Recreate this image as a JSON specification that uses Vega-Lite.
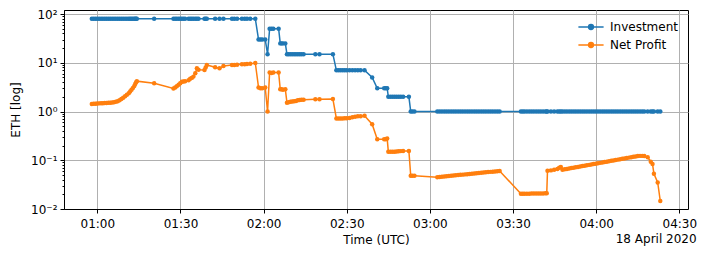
{
  "$schema": "https://vega.github.io/schema/vega-lite/v6.json",
  "width": 624,
  "height": 199,
  "autosize": {"type": "none"},
  "padding": {"left": 64, "top": 10, "right": 18, "bottom": 48},
  "background": "white",
  "config": {
    "font": "DejaVu Sans",
    "view": {"stroke": "black", "strokeWidth": 1},
    "axis": {
      "labelFont": "DejaVu Sans", "labelFontSize": 12, "labelColor": "black",
      "titleFont": "DejaVu Sans", "titleFontSize": 12, "titleFontWeight": "normal", "titleColor": "black",
      "domainColor": "black", "tickColor": "black", "tickSize": 4,
      "gridColor": "#b0b0b0", "gridWidth": 1, "gridOpacity": 1
    }
  },
  "title": {"text": "18 April 2020", "orient": "bottom", "anchor": "end", "fontSize": 12, "fontWeight": "normal", "font": "DejaVu Sans", "color": "black", "offset": -11},
  "data": {"values": [
    {"t":"2020-04-18T00:58:00Z","Investment":80,"Net Profit":1.43},
    {"t":"2020-04-18T00:58:40Z","Investment":80,"Net Profit":1.44},
    {"t":"2020-04-18T00:59:20Z","Investment":80,"Net Profit":1.45},
    {"t":"2020-04-18T01:00:00Z","Investment":80,"Net Profit":1.46},
    {"t":"2020-04-18T01:00:40Z","Investment":80,"Net Profit":1.47},
    {"t":"2020-04-18T01:01:20Z","Investment":80,"Net Profit":1.48},
    {"t":"2020-04-18T01:02:00Z","Investment":80,"Net Profit":1.48},
    {"t":"2020-04-18T01:02:40Z","Investment":80,"Net Profit":1.49},
    {"t":"2020-04-18T01:03:20Z","Investment":80,"Net Profit":1.5},
    {"t":"2020-04-18T01:04:00Z","Investment":80,"Net Profit":1.51},
    {"t":"2020-04-18T01:04:40Z","Investment":80,"Net Profit":1.52},
    {"t":"2020-04-18T01:05:20Z","Investment":80,"Net Profit":1.53},
    {"t":"2020-04-18T01:06:00Z","Investment":80,"Net Profit":1.55},
    {"t":"2020-04-18T01:06:40Z","Investment":80,"Net Profit":1.58},
    {"t":"2020-04-18T01:07:20Z","Investment":80,"Net Profit":1.63},
    {"t":"2020-04-18T01:08:00Z","Investment":80,"Net Profit":1.7},
    {"t":"2020-04-18T01:08:40Z","Investment":80,"Net Profit":1.8},
    {"t":"2020-04-18T01:09:20Z","Investment":80,"Net Profit":1.92},
    {"t":"2020-04-18T01:10:00Z","Investment":80,"Net Profit":2.05},
    {"t":"2020-04-18T01:10:40Z","Investment":80,"Net Profit":2.2},
    {"t":"2020-04-18T01:11:20Z","Investment":80,"Net Profit":2.38},
    {"t":"2020-04-18T01:11:50Z","Investment":80,"Net Profit":2.58},
    {"t":"2020-04-18T01:12:20Z","Investment":80,"Net Profit":2.8},
    {"t":"2020-04-18T01:12:50Z","Investment":80,"Net Profit":3.05},
    {"t":"2020-04-18T01:13:20Z","Investment":80,"Net Profit":3.35},
    {"t":"2020-04-18T01:13:40Z","Investment":80,"Net Profit":3.65},
    {"t":"2020-04-18T01:14:00Z","Investment":80,"Net Profit":4.0},
    {"t":"2020-04-18T01:14:15Z","Investment":80,"Net Profit":4.2},
    {"t":"2020-04-18T01:20:30Z","Investment":80,"Net Profit":3.8},
    {"t":"2020-04-18T01:27:28Z","Investment":80,"Net Profit":2.98},
    {"t":"2020-04-18T01:28:05Z","Investment":80,"Net Profit":3.1},
    {"t":"2020-04-18T01:28:40Z","Investment":80,"Net Profit":3.3},
    {"t":"2020-04-18T01:29:20Z","Investment":80,"Net Profit":3.55},
    {"t":"2020-04-18T01:29:55Z","Investment":80,"Net Profit":3.8},
    {"t":"2020-04-18T01:30:30Z","Investment":80,"Net Profit":4.1},
    {"t":"2020-04-18T01:31:05Z","Investment":80,"Net Profit":4.15},
    {"t":"2020-04-18T01:31:40Z","Investment":80,"Net Profit":4.2},
    {"t":"2020-04-18T01:32:55Z","Investment":80,"Net Profit":4.4},
    {"t":"2020-04-18T01:33:30Z","Investment":80,"Net Profit":4.7},
    {"t":"2020-04-18T01:34:05Z","Investment":80,"Net Profit":4.9},
    {"t":"2020-04-18T01:34:40Z","Investment":80,"Net Profit":5.2},
    {"t":"2020-04-18T01:35:20Z","Investment":80,"Net Profit":6.1},
    {"t":"2020-04-18T01:35:55Z","Investment":80,"Net Profit":7.7},
    {"t":"2020-04-18T01:36:30Z","Investment":80,"Net Profit":7.2},
    {"t":"2020-04-18T01:38:40Z","Investment":80,"Net Profit":7.1},
    {"t":"2020-04-18T01:39:05Z","Investment":80,"Net Profit":8.0},
    {"t":"2020-04-18T01:39:30Z","Investment":80,"Net Profit":9.0},
    {"t":"2020-04-18T01:42:30Z","Investment":80,"Net Profit":8.1},
    {"t":"2020-04-18T01:44:05Z","Investment":80,"Net Profit":7.7},
    {"t":"2020-04-18T01:45:30Z","Investment":80,"Net Profit":8.6},
    {"t":"2020-04-18T01:48:35Z","Investment":80,"Net Profit":9.0},
    {"t":"2020-04-18T01:49:25Z","Investment":80,"Net Profit":9.0},
    {"t":"2020-04-18T01:50:25Z","Investment":80,"Net Profit":9.1},
    {"t":"2020-04-18T01:52:10Z","Investment":80,"Net Profit":9.3},
    {"t":"2020-04-18T01:53:10Z","Investment":80,"Net Profit":9.3},
    {"t":"2020-04-18T01:54:00Z","Investment":80,"Net Profit":9.4},
    {"t":"2020-04-18T01:55:10Z","Investment":80,"Net Profit":9.6},
    {"t":"2020-04-18T01:57:00Z","Investment":80,"Net Profit":9.9},
    {"t":"2020-04-18T01:58:10Z","Investment":30,"Net Profit":3.1},
    {"t":"2020-04-18T01:58:50Z","Investment":30,"Net Profit":3.0},
    {"t":"2020-04-18T01:59:30Z","Investment":30,"Net Profit":3.0},
    {"t":"2020-04-18T02:00:35Z","Investment":30,"Net Profit":3.1},
    {"t":"2020-04-18T02:01:25Z","Investment":15,"Net Profit":1.0},
    {"t":"2020-04-18T02:02:10Z","Investment":50,"Net Profit":6.3},
    {"t":"2020-04-18T02:02:50Z","Investment":50,"Net Profit":6.2},
    {"t":"2020-04-18T02:03:30Z","Investment":50,"Net Profit":6.3},
    {"t":"2020-04-18T02:05:25Z","Investment":50,"Net Profit":6.3},
    {"t":"2020-04-18T02:06:00Z","Investment":25,"Net Profit":2.85},
    {"t":"2020-04-18T02:06:30Z","Investment":25,"Net Profit":2.85},
    {"t":"2020-04-18T02:07:00Z","Investment":25,"Net Profit":2.8},
    {"t":"2020-04-18T02:07:50Z","Investment":25,"Net Profit":2.85},
    {"t":"2020-04-18T02:08:25Z","Investment":15,"Net Profit":1.52},
    {"t":"2020-04-18T02:09:00Z","Investment":15,"Net Profit":1.55},
    {"t":"2020-04-18T02:09:40Z","Investment":15,"Net Profit":1.58},
    {"t":"2020-04-18T02:10:20Z","Investment":15,"Net Profit":1.6},
    {"t":"2020-04-18T02:11:00Z","Investment":15,"Net Profit":1.62},
    {"t":"2020-04-18T02:11:40Z","Investment":15,"Net Profit":1.65},
    {"t":"2020-04-18T02:12:20Z","Investment":15,"Net Profit":1.7},
    {"t":"2020-04-18T02:13:00Z","Investment":15,"Net Profit":1.72},
    {"t":"2020-04-18T02:13:40Z","Investment":15,"Net Profit":1.75},
    {"t":"2020-04-18T02:14:25Z","Investment":15,"Net Profit":1.75},
    {"t":"2020-04-18T02:18:40Z","Investment":15,"Net Profit":1.78},
    {"t":"2020-04-18T02:20:10Z","Investment":15,"Net Profit":1.78},
    {"t":"2020-04-18T02:25:00Z","Investment":15,"Net Profit":1.8},
    {"t":"2020-04-18T02:26:15Z","Investment":7,"Net Profit":0.72},
    {"t":"2020-04-18T02:27:00Z","Investment":7,"Net Profit":0.72},
    {"t":"2020-04-18T02:27:45Z","Investment":7,"Net Profit":0.72},
    {"t":"2020-04-18T02:28:30Z","Investment":7,"Net Profit":0.72},
    {"t":"2020-04-18T02:29:15Z","Investment":7,"Net Profit":0.73},
    {"t":"2020-04-18T02:30:00Z","Investment":7,"Net Profit":0.73},
    {"t":"2020-04-18T02:31:00Z","Investment":7,"Net Profit":0.74},
    {"t":"2020-04-18T02:32:00Z","Investment":7,"Net Profit":0.76},
    {"t":"2020-04-18T02:33:00Z","Investment":7,"Net Profit":0.78},
    {"t":"2020-04-18T02:34:00Z","Investment":7,"Net Profit":0.8},
    {"t":"2020-04-18T02:35:00Z","Investment":7,"Net Profit":0.8},
    {"t":"2020-04-18T02:36:25Z","Investment":7,"Net Profit":0.82},
    {"t":"2020-04-18T02:39:10Z","Investment":5,"Net Profit":0.55},
    {"t":"2020-04-18T02:41:00Z","Investment":3,"Net Profit":0.27},
    {"t":"2020-04-18T02:43:30Z","Investment":3,"Net Profit":0.27},
    {"t":"2020-04-18T02:44:05Z","Investment":3,"Net Profit":0.27},
    {"t":"2020-04-18T02:44:35Z","Investment":3,"Net Profit":0.28},
    {"t":"2020-04-18T02:45:00Z","Investment":2,"Net Profit":0.15},
    {"t":"2020-04-18T02:45:45Z","Investment":2,"Net Profit":0.15},
    {"t":"2020-04-18T02:46:30Z","Investment":2,"Net Profit":0.15},
    {"t":"2020-04-18T02:47:15Z","Investment":2,"Net Profit":0.15},
    {"t":"2020-04-18T02:48:00Z","Investment":2,"Net Profit":0.152},
    {"t":"2020-04-18T02:48:45Z","Investment":2,"Net Profit":0.153},
    {"t":"2020-04-18T02:49:30Z","Investment":2,"Net Profit":0.154},
    {"t":"2020-04-18T02:50:20Z","Investment":2,"Net Profit":0.155},
    {"t":"2020-04-18T02:52:25Z","Investment":2,"Net Profit":0.155},
    {"t":"2020-04-18T02:53:05Z","Investment":1,"Net Profit":0.048},
    {"t":"2020-04-18T02:53:40Z","Investment":1,"Net Profit":0.048},
    {"t":"2020-04-18T02:54:25Z","Investment":1,"Net Profit":0.048},
    {"t":"2020-04-18T03:02:40Z","Investment":1,"Net Profit":0.045},
    {"t":"2020-04-18T03:03:30Z","Investment":1,"Net Profit":0.0455},
    {"t":"2020-04-18T03:04:20Z","Investment":1,"Net Profit":0.046},
    {"t":"2020-04-18T03:05:10Z","Investment":1,"Net Profit":0.0465},
    {"t":"2020-04-18T03:06:00Z","Investment":1,"Net Profit":0.047},
    {"t":"2020-04-18T03:06:50Z","Investment":1,"Net Profit":0.0475},
    {"t":"2020-04-18T03:07:40Z","Investment":1,"Net Profit":0.048},
    {"t":"2020-04-18T03:08:30Z","Investment":1,"Net Profit":0.0485},
    {"t":"2020-04-18T03:09:20Z","Investment":1,"Net Profit":0.0491},
    {"t":"2020-04-18T03:10:10Z","Investment":1,"Net Profit":0.0496},
    {"t":"2020-04-18T03:11:00Z","Investment":1,"Net Profit":0.0502},
    {"t":"2020-04-18T03:11:50Z","Investment":1,"Net Profit":0.0507},
    {"t":"2020-04-18T03:12:40Z","Investment":1,"Net Profit":0.0513},
    {"t":"2020-04-18T03:13:30Z","Investment":1,"Net Profit":0.0518},
    {"t":"2020-04-18T03:14:20Z","Investment":1,"Net Profit":0.0524},
    {"t":"2020-04-18T03:15:10Z","Investment":1,"Net Profit":0.053},
    {"t":"2020-04-18T03:16:00Z","Investment":1,"Net Profit":0.0535},
    {"t":"2020-04-18T03:16:50Z","Investment":1,"Net Profit":0.0541},
    {"t":"2020-04-18T03:17:40Z","Investment":1,"Net Profit":0.0547},
    {"t":"2020-04-18T03:18:30Z","Investment":1,"Net Profit":0.0553},
    {"t":"2020-04-18T03:19:20Z","Investment":1,"Net Profit":0.0559},
    {"t":"2020-04-18T03:20:10Z","Investment":1,"Net Profit":0.0566},
    {"t":"2020-04-18T03:21:00Z","Investment":1,"Net Profit":0.0572},
    {"t":"2020-04-18T03:21:50Z","Investment":1,"Net Profit":0.0578},
    {"t":"2020-04-18T03:22:40Z","Investment":1,"Net Profit":0.0584},
    {"t":"2020-04-18T03:23:30Z","Investment":1,"Net Profit":0.0591},
    {"t":"2020-04-18T03:24:20Z","Investment":1,"Net Profit":0.0597},
    {"t":"2020-04-18T03:25:10Z","Investment":1,"Net Profit":0.0603},
    {"t":"2020-04-18T03:32:50Z","Investment":1,"Net Profit":0.0205},
    {"t":"2020-04-18T03:33:30Z","Investment":1,"Net Profit":0.0205},
    {"t":"2020-04-18T03:34:10Z","Investment":1,"Net Profit":0.0205},
    {"t":"2020-04-18T03:35:00Z","Investment":1,"Net Profit":0.0206},
    {"t":"2020-04-18T03:35:50Z","Investment":1,"Net Profit":0.0206},
    {"t":"2020-04-18T03:36:40Z","Investment":1,"Net Profit":0.0207},
    {"t":"2020-04-18T03:37:30Z","Investment":1,"Net Profit":0.0207},
    {"t":"2020-04-18T03:38:20Z","Investment":1,"Net Profit":0.0208},
    {"t":"2020-04-18T03:39:10Z","Investment":1,"Net Profit":0.0208},
    {"t":"2020-04-18T03:40:00Z","Investment":1,"Net Profit":0.0209},
    {"t":"2020-04-18T03:40:50Z","Investment":1,"Net Profit":0.0209},
    {"t":"2020-04-18T03:41:40Z","Investment":1,"Net Profit":0.021},
    {"t":"2020-04-18T03:42:10Z","Investment":1,"Net Profit":0.021},
    {"t":"2020-04-18T03:42:26Z","Investment":1,"Net Profit":0.061},
    {"t":"2020-04-18T03:43:40Z","Investment":1,"Net Profit":0.062},
    {"t":"2020-04-18T03:44:50Z","Investment":1,"Net Profit":0.064},
    {"t":"2020-04-18T03:46:00Z","Investment":1,"Net Profit":0.066},
    {"t":"2020-04-18T03:46:40Z","Investment":1,"Net Profit":0.07},
    {"t":"2020-04-18T03:47:15Z","Investment":1,"Net Profit":0.073},
    {"t":"2020-04-18T03:47:50Z","Investment":1,"Net Profit":0.064},
    {"t":"2020-04-18T03:48:38Z","Investment":1,"Net Profit":0.0652},
    {"t":"2020-04-18T03:49:26Z","Investment":1,"Net Profit":0.0665},
    {"t":"2020-04-18T03:50:14Z","Investment":1,"Net Profit":0.0678},
    {"t":"2020-04-18T03:51:02Z","Investment":1,"Net Profit":0.0691},
    {"t":"2020-04-18T03:51:50Z","Investment":1,"Net Profit":0.0704},
    {"t":"2020-04-18T03:52:38Z","Investment":1,"Net Profit":0.0717},
    {"t":"2020-04-18T03:53:26Z","Investment":1,"Net Profit":0.0731},
    {"t":"2020-04-18T03:54:14Z","Investment":1,"Net Profit":0.0745},
    {"t":"2020-04-18T03:55:02Z","Investment":1,"Net Profit":0.076},
    {"t":"2020-04-18T03:55:50Z","Investment":1,"Net Profit":0.0774},
    {"t":"2020-04-18T03:56:38Z","Investment":1,"Net Profit":0.0789},
    {"t":"2020-04-18T03:57:26Z","Investment":1,"Net Profit":0.0804},
    {"t":"2020-04-18T03:58:14Z","Investment":1,"Net Profit":0.082},
    {"t":"2020-04-18T03:59:02Z","Investment":1,"Net Profit":0.0835},
    {"t":"2020-04-18T03:59:50Z","Investment":1,"Net Profit":0.0851},
    {"t":"2020-04-18T04:00:38Z","Investment":1,"Net Profit":0.0868},
    {"t":"2020-04-18T04:01:26Z","Investment":1,"Net Profit":0.0884},
    {"t":"2020-04-18T04:02:14Z","Investment":1,"Net Profit":0.0901},
    {"t":"2020-04-18T04:03:02Z","Investment":1,"Net Profit":0.0919},
    {"t":"2020-04-18T04:03:50Z","Investment":1,"Net Profit":0.0936},
    {"t":"2020-04-18T04:04:38Z","Investment":1,"Net Profit":0.0954},
    {"t":"2020-04-18T04:05:26Z","Investment":1,"Net Profit":0.0973},
    {"t":"2020-04-18T04:06:14Z","Investment":1,"Net Profit":0.0991},
    {"t":"2020-04-18T04:07:02Z","Investment":1,"Net Profit":0.101},
    {"t":"2020-04-18T04:07:50Z","Investment":1,"Net Profit":0.103},
    {"t":"2020-04-18T04:08:38Z","Investment":1,"Net Profit":0.105},
    {"t":"2020-04-18T04:09:26Z","Investment":1,"Net Profit":0.107},
    {"t":"2020-04-18T04:10:14Z","Investment":1,"Net Profit":0.109},
    {"t":"2020-04-18T04:11:02Z","Investment":1,"Net Profit":0.1111},
    {"t":"2020-04-18T04:11:50Z","Investment":1,"Net Profit":0.1133},
    {"t":"2020-04-18T04:12:38Z","Investment":1,"Net Profit":0.1154},
    {"t":"2020-04-18T04:13:26Z","Investment":1,"Net Profit":0.1177},
    {"t":"2020-04-18T04:14:14Z","Investment":1,"Net Profit":0.1199},
    {"t":"2020-04-18T04:15:02Z","Investment":1,"Net Profit":0.1222},
    {"t":"2020-04-18T04:15:50Z","Investment":1,"Net Profit":0.123},
    {"t":"2020-04-18T04:16:38Z","Investment":1,"Net Profit":0.123},
    {"t":"2020-04-18T04:17:22Z","Investment":1,"Net Profit":0.122},
    {"t":"2020-04-18T04:18:35Z","Investment":1,"Net Profit":0.115},
    {"t":"2020-04-18T04:19:42Z","Investment":1,"Net Profit":0.093},
    {"t":"2020-04-18T04:20:20Z","Investment":1,"Net Profit":0.0835},
    {"t":"2020-04-18T04:20:50Z","Investment":1,"Net Profit":0.053},
    {"t":"2020-04-18T04:22:12Z","Investment":1,"Net Profit":0.035},
    {"t":"2020-04-18T04:23:08Z","Investment":1,"Net Profit":0.0146}
  ]},
  "transform": [{"fold": ["Investment", "Net Profit"], "as": ["series", "value"]}],
  "encoding": {
    "x": {
      "field": "t", "type": "temporal",
      "scale": {"type": "utc", "domain": [
        {"year": 2020, "month": 4, "date": 18, "hours": 0, "minutes": 47, "seconds": 58, "utc": true},
        {"year": 2020, "month": 4, "date": 18, "hours": 4, "minutes": 33, "seconds": 8, "utc": true}
      ]},
      "axis": {
        "title": "Time (UTC)", "format": "%H:%M", "grid": true, "labelPadding": 5, "titlePadding": 5, "labelFlush": false,
        "values": [
          {"year": 2020, "month": 4, "date": 18, "hours": 1, "minutes": 0, "utc": true},
          {"year": 2020, "month": 4, "date": 18, "hours": 1, "minutes": 30, "utc": true},
          {"year": 2020, "month": 4, "date": 18, "hours": 2, "minutes": 0, "utc": true},
          {"year": 2020, "month": 4, "date": 18, "hours": 2, "minutes": 30, "utc": true},
          {"year": 2020, "month": 4, "date": 18, "hours": 3, "minutes": 0, "utc": true},
          {"year": 2020, "month": 4, "date": 18, "hours": 3, "minutes": 30, "utc": true},
          {"year": 2020, "month": 4, "date": 18, "hours": 4, "minutes": 0, "utc": true},
          {"year": 2020, "month": 4, "date": 18, "hours": 4, "minutes": 30, "utc": true}
        ]
      }
    },
    "color": {
      "field": "series", "type": "nominal",
      "scale": {"domain": ["Investment", "Net Profit"], "range": ["#1f77b4", "#ff7f0e"]},
      "legend": {
        "orient": "top-right", "title": null, "offset": 10, "padding": 0,
        "labelFont": "DejaVu Sans", "labelFontSize": 12, "labelColor": "black",
        "symbolType": "M-2.1,0H2.1M0.4,0A0.4,0.4 0 1 1 -0.4,0A0.4,0.4 0 1 1 0.4,0",
        "symbolSize": 144, "symbolStrokeWidth": 1.5, "labelOffset": 12, "rowPadding": 5,
        "encode": {"symbols": {"update": {
          "fill": {"scale": "color", "field": "value"},
          "stroke": {"scale": "color", "field": "value"},
          "opacity": {"value": 1}
        }}}
      }
    }
  },
  "layer": [
    {
      "mark": {"type": "line", "strokeWidth": 1.5},
      "encoding": {
        "y": {
          "field": "value", "type": "quantitative",
          "scale": {"type": "log", "domain": [0.01, 121]},
          "axis": {
            "title": "ETH [log]", "orient": "left", "grid": true, "values": [0.01, 0.1, 1, 10, 100],
            "labelExpr": "datum.value >= 50 ? '10²' : datum.value >= 5 ? '10¹' : datum.value >= 0.5 ? '10⁰' : datum.value >= 0.05 ? '10⁻¹' : '10⁻²'",
            "labelPadding": 3, "titlePadding": 8
          }
        }
      }
    },
    {
      "mark": {"type": "point", "filled": true, "size": 20, "opacity": 1},
      "encoding": {
        "y": {
          "field": "value", "type": "quantitative",
          "scale": {"type": "log", "domain": [0.01, 121]},
          "axis": {
            "orient": "left", "title": null, "labels": false, "grid": false, "domain": false, "tickSize": 2,
            "values": [0.02,0.03,0.04,0.05,0.06,0.07,0.08,0.09,0.2,0.3,0.4,0.5,0.6,0.7,0.8,0.9,2,3,4,5,6,7,8,9,20,30,40,50,60,70,80,90]
          }
        }
      }
    }
  ],
  "resolve": {"axis": {"y": "independent"}}
}
